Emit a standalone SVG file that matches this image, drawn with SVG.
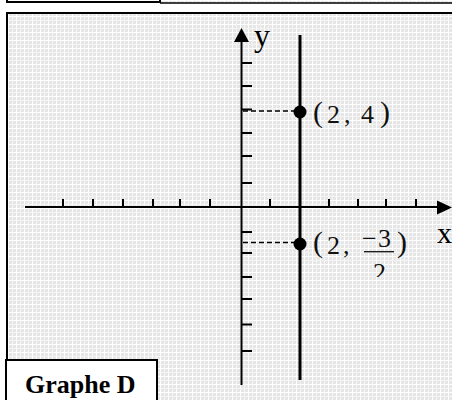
<svg xmlns="http://www.w3.org/2000/svg" width="452" height="400" viewBox="0 0 452 400">
  <style>
    .ax { stroke: #000; stroke-width: 2; fill: none; }
    .tick { stroke: #000; stroke-width: 2; }
    .dash { stroke: #000; stroke-width: 1.5; stroke-dasharray: 5 3; fill: none; }
    .num { font-family: "Liberation Serif", "Times New Roman", serif; font-size: 26px; fill: #111; }
    .par { font-family: "Liberation Serif", "Times New Roman", serif; font-size: 30px; fill: #111; }
    .axl { font-family: "Liberation Serif", "Times New Roman", serif; fill: #000; }
    .title { font-family: "Liberation Serif", "Times New Roman", serif; font-weight: bold; font-size: 26px; fill: #000; }
  </style>
  <defs>
    <pattern id="grid" width="8" height="8" patternUnits="userSpaceOnUse">
      <rect width="8" height="8" fill="#e6e6e6"/>
      <rect x="0" y="0" width="8" height="1" fill="#ffffff"/>
      <rect x="0" y="0" width="1" height="8" fill="#ffffff"/>
      <rect x="4" y="0" width="1" height="8" fill="#f4f4f4"/>
      <rect x="0" y="4" width="8" height="1" fill="#f4f4f4"/>
    </pattern>
    <clipPath id="denclip"><rect x="360" y="256" width="40" height="21"/></clipPath>
  </defs>

  <rect width="452" height="400" fill="#ffffff"/>

  <!-- top strip (previous row) -->
  <g id="top-strip">
    <rect x="161" y="-2" width="295" height="5" fill="url(#grid)"/>
    <line x1="160" y1="3" x2="452" y2="3" stroke="#000" stroke-width="1.5"/>
    <rect x="7" y="-10" width="153" height="12" fill="#fff" stroke="#000" stroke-width="2"/>
  </g>

  <!-- main panel -->
  <g id="panel">
    <rect x="7" y="13" width="460" height="400" fill="url(#grid)" stroke="#000" stroke-width="2"/>
  </g>

  <!-- axes -->
  <g id="x-axis">
    <line class="ax" x1="25" y1="207" x2="440" y2="207"/>
    <polygon points="452,207.5 437,200.5 437,214.5" fill="#000"/>
    <g class="tick">
      <line x1="63" y1="199" x2="63" y2="207"/>
      <line x1="93" y1="199" x2="93" y2="207"/>
      <line x1="123" y1="199" x2="123" y2="207"/>
      <line x1="153" y1="199" x2="153" y2="207"/>
      <line x1="180" y1="199" x2="180" y2="207"/>
      <line x1="210" y1="199" x2="210" y2="207"/>
      <line x1="270" y1="199" x2="270" y2="207"/>
      <line x1="329" y1="199" x2="329" y2="207"/>
      <line x1="358" y1="199" x2="358" y2="207"/>
      <line x1="386" y1="199" x2="386" y2="207"/>
      <line x1="416" y1="199" x2="416" y2="207"/>
    </g>
    <text class="axl" x="437" y="243" font-size="30">x</text>
  </g>

  <g id="y-axis">
    <line class="ax" x1="241.5" y1="40" x2="241.5" y2="385"/>
    <polygon points="241.5,28 234,42 249,42" fill="#000"/>
    <g class="tick">
      <line x1="242" y1="63" x2="252" y2="63"/>
      <line x1="242" y1="86" x2="252" y2="86"/>
      <line x1="242" y1="109.5" x2="252" y2="109.5"/>
      <line x1="242" y1="133" x2="252" y2="133"/>
      <line x1="242" y1="156" x2="252" y2="156"/>
      <line x1="242" y1="183" x2="252" y2="183"/>
      <line x1="242" y1="232" x2="252" y2="232"/>
      <line x1="242" y1="253" x2="252" y2="253"/>
      <line x1="242" y1="277" x2="252" y2="277"/>
      <line x1="242" y1="299" x2="252" y2="299"/>
      <line x1="242" y1="324.5" x2="252" y2="324.5"/>
      <line x1="242" y1="351" x2="252" y2="351"/>
    </g>
    <text class="axl" x="254" y="46" font-size="32">y</text>
  </g>

  <!-- vertical line x = 2 -->
  <g id="line-x2">
    <line x1="300" y1="35" x2="300" y2="380" stroke="#000" stroke-width="3"/>
  </g>

  <!-- connectors (dashed guides) -->
  <g id="connectors">
    <line class="dash" x1="243" y1="111" x2="295" y2="111"/>
    <line class="dash" x1="243" y1="242.5" x2="295" y2="242.5"/>
  </g>

  <!-- point (2,4) -->
  <g id="point-2-4">
    <circle cx="300" cy="112" r="6.5" fill="#000"/>
    <text class="par" x="313" y="122">(</text>
    <text class="num" x="327" y="123">2</text>
    <text class="num" x="344" y="123">,</text>
    <text class="num" x="361" y="123">4</text>
    <text class="par" x="380" y="122">)</text>
  </g>

  <!-- point (2,-3/2) -->
  <g id="point-2-m3-2">
    <circle cx="300" cy="244" r="6.5" fill="#000"/>
    <text class="par" x="313" y="252">(</text>
    <text class="num" x="327" y="254">2</text>
    <text class="num" x="343" y="254">,</text>
    <text class="num" x="362" y="247">−</text>
    <text class="num" x="378" y="247">3</text>
    <line x1="364" y1="251.7" x2="394" y2="251.7" stroke="#111" stroke-width="1.3"/>
    <text class="num" x="373" y="281" clip-path="url(#denclip)">2</text>
    <text class="par" x="397" y="252">)</text>
  </g>

  <!-- caption box -->
  <g id="caption">
    <rect x="6" y="360" width="151" height="60" fill="#fff" stroke="#000" stroke-width="2"/>
    <text class="title" x="25" y="393">Graphe D</text>
  </g>
</svg>
